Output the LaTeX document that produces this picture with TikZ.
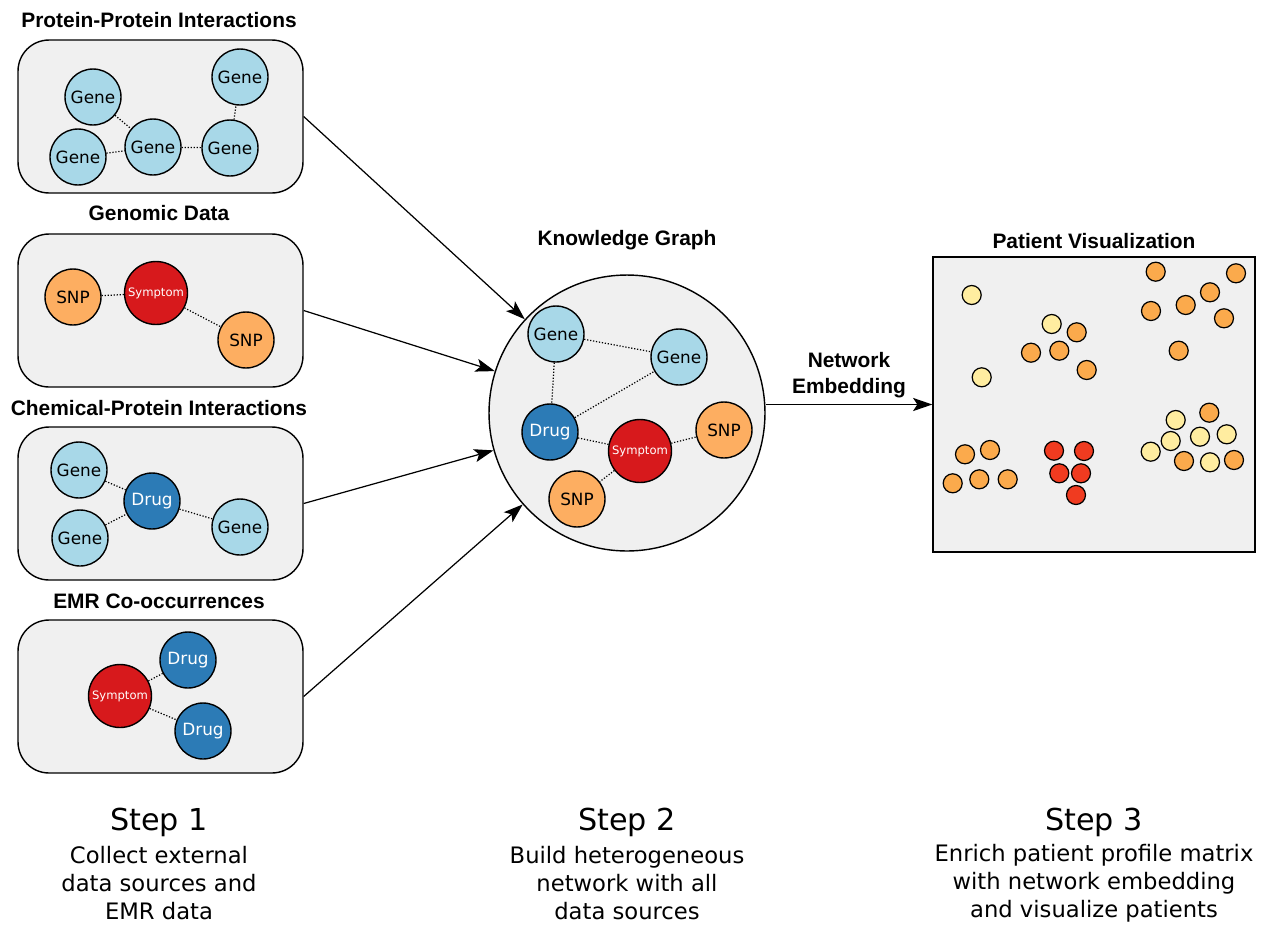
\documentclass[tikz,border=0pt]{standalone}
\usepackage{fontspec}
\setmainfont{DejaVu Sans}
\newfontfamily\headfont{Liberation Sans}
\usetikzlibrary{positioning}
\usetikzlibrary{arrows.meta}
\definecolor{genecol}{HTML}{A8D8E8}
\definecolor{drugcol}{HTML}{2C7BB6}
\definecolor{symcol}{HTML}{D7191C}
\definecolor{snpcol}{HTML}{FDAE61}
\definecolor{boxcol}{HTML}{F0F0F0}
\definecolor{palecol}{HTML}{FFEDA0}
\definecolor{orgcol}{HTML}{FBAA4C}
\definecolor{redcol}{HTML}{F03B20}
\tikzset{
    srcbox/.style = {rectangle, rounded corners=0.62cm, draw=black, line width=0.8pt, fill=boxcol, minimum width=5.7cm, minimum height=3.06cm},
    genenode/.style = {circle, draw=black, line width=0.8pt, fill=genecol, minimum size=1.12cm, inner sep=0pt, font=\fontsize{9.6}{11}\selectfont},
    drugnode/.style = {genenode, fill=drugcol, text=white},
    snpnode/.style = {genenode, fill=snpcol},
    symnode/.style = {genenode, fill=symcol, text=white, minimum size=1.26cm, font=\fontsize{6.6}{8}\selectfont},
    patdot/.style = {circle, draw=black, line width=0.7pt, fill=#1, minimum size=0.38cm, inner sep=0pt},
    heading/.style = {align=center, font=\headfont\bfseries\fontsize{11.9}{14.7}\selectfont},
    steptitle/.style = {font=\fontsize{17.2}{20}\selectfont},
    stepdesc/.style = {align=center, font=\fontsize{12.9}{15.9}\selectfont},
    link/.style = {densely dotted, line width=0.7pt},
    flow/.style = {-{Stealth[length=11pt,width=7.5pt,inset=2.5pt]}, line width=0.7pt}
}
\begin{document}
\begin{tikzpicture}[x=0.02cm,y=-0.02cm]
\useasboundingbox (0,0) rectangle (1262,924);
%
% step 1 : data sources
\node[heading] at (159,20) (t1) {Protein-Protein Interactions};
\node[heading] at (159,213) (t2) {Genomic Data};
\node[heading] at (159,408) (t3) {Chemical-Protein Interactions};
\node[heading] at (159,601) (t4) {EMR Co-occurrences};
\node[srcbox] at (160.5,116.5) (ppi) {};
\node[srcbox] at (160.5,310.5) (gen) {};
\node[srcbox] at (160.5,503.5) (cpi) {};
\node[srcbox] at (160.5,696.5) (emr) {};
%
\node[genenode] at (93,97) (a1) {Gene};
\node[genenode] at (78,157) (a2) {Gene};
\node[genenode] at (153,147) (a3) {Gene};
\node[genenode] at (230,148) (a4) {Gene};
\node[genenode] at (240,77) (a5) {Gene};
\node[snpnode] at (73,297) (b1) {SNP};
\node[symnode] at (156,293) (b2) {Symptom};
\node[snpnode] at (246,340) (b3) {SNP};
\node[genenode] at (79,470) (c1) {Gene};
\node[genenode] at (80,538) (c2) {Gene};
\node[drugnode] at (152,501) (c3) {Drug};
\node[genenode] at (240,527) (c4) {Gene};
\node[symnode] at (120,696) (d1) {Symptom};
\node[drugnode] at (188,660) (d2) {Drug};
\node[drugnode] at (203,731) (d3) {Drug};
%
\draw[link] (a1) edge (a3);
\draw[link] (a2) edge (a3);
\draw[link] (a3) edge (a4);
\draw[link] (a4) edge (a5);
\draw[link] (b1) edge (b2);
\draw[link] (b2) edge (b3);
\draw[link] (c1) edge (c3);
\draw[link] (c2) edge (c3);
\draw[link] (c3) edge (c4);
\draw[link] (d1) edge (d2);
\draw[link] (d1) edge (d3);
%
% step 2 : knowledge graph
\node[heading] at (627,240) (t5) {Knowledge Graph};
\node[circle, draw=black, line width=0.8pt, fill=boxcol, minimum size=5.52cm] at (627,413) (kg) {};
\node[genenode] at (556,334) (k1) {Gene};
\node[genenode] at (679,357) (k2) {Gene};
\node[drugnode] at (550,432) (k3) {Drug};
\node[symnode] at (640,451) (k4) {Symptom};
\node[snpnode] at (724,430) (k5) {SNP};
\node[snpnode] at (577,499) (k6) {SNP};
%
\draw[link] (k1) edge (k2);
\draw[link] (k1) edge (k3);
\draw[link] (k3) edge (k2);
\draw[link] (k3) edge (k4);
\draw[link] (k4) edge (k5);
\draw[link] (k4) edge (k6);
%
\draw[flow] (ppi.east) -- (kg);
\draw[flow] (gen.east) -- (kg);
\draw[flow] (cpi.east) -- (kg);
\draw[flow] (emr.east) -- (kg);
%
% step 3 : patients
\node[heading] at (1094,241) (t6) {Patient Visualization};
\node[rectangle, draw=black, line width=0.8pt, fill=boxcol, minimum width=6.44cm, minimum height=5.9cm] at (1094,404.5) (pat) {};
\node[heading] at (849,375) (emb) {Network\\Embedding};
\draw[flow] (kg.east |- pat.west) -- (pat.west);
%
\node[patdot=palecol] at (971.7,295) (p1) {};
\node[patdot=palecol] at (1051.7,324) (p2) {};
\node[patdot=palecol] at (981.7,377.3) (p3) {};
\node[patdot=orgcol] at (1076.7,332.3) (p4) {};
\node[patdot=orgcol] at (1031,352.7) (p5) {};
\node[patdot=orgcol] at (1059.3,350.7) (p6) {};
\node[patdot=orgcol] at (1086.7,370) (p7) {};
\node[patdot=orgcol] at (1155.7,271.7) (p8) {};
\node[patdot=orgcol] at (1236,273.3) (p9) {};
\node[patdot=orgcol] at (1210,292.3) (p10) {};
\node[patdot=orgcol] at (1185.7,305) (p11) {};
\node[patdot=orgcol] at (1151,311) (p12) {};
\node[patdot=orgcol] at (1224,318.3) (p13) {};
\node[patdot=orgcol] at (1178.7,350.7) (p14) {};
\node[patdot=orgcol] at (965,454.3) (p15) {};
\node[patdot=orgcol] at (990,450) (p16) {};
\node[patdot=orgcol] at (952.7,483.3) (p17) {};
\node[patdot=orgcol] at (979.3,479.3) (p18) {};
\node[patdot=orgcol] at (1007.7,479.3) (p19) {};
\node[patdot=redcol] at (1054,450.7) (p20) {};
\node[patdot=redcol] at (1084,451) (p21) {};
\node[patdot=redcol] at (1059.3,473.3) (p22) {};
\node[patdot=redcol] at (1081,473.3) (p23) {};
\node[patdot=redcol] at (1076,495) (p24) {};
\node[patdot=palecol] at (1175.7,420) (p25) {};
\node[patdot=orgcol] at (1209.3,412.7) (p26) {};
\node[patdot=palecol] at (1170.7,441) (p27) {};
\node[patdot=palecol] at (1200,436.7) (p28) {};
\node[patdot=palecol] at (1226.7,434.3) (p29) {};
\node[patdot=palecol] at (1150.7,451.7) (p30) {};
\node[patdot=orgcol] at (1184,461) (p31) {};
\node[patdot=palecol] at (1210,462.3) (p32) {};
\node[patdot=orgcol] at (1234,460) (p33) {};
%
% captions
\node[steptitle] at (159,822) (s1) {Step 1};
\node[steptitle] at (627,822) (s2) {Step 2};
\node[steptitle] at (1094,822) (s3) {Step 3};
\node[stepdesc] at (159,883) (e1) {Collect external\\data sources and\\EMR data};
\node[stepdesc] at (627,883) (e2) {Build heterogeneous\\network with all\\data sources};
\node[stepdesc] at (1094,883) (e3) {Enrich patient profile matrix\\with network embedding\\and visualize patients};
\end{tikzpicture}
\end{document}
